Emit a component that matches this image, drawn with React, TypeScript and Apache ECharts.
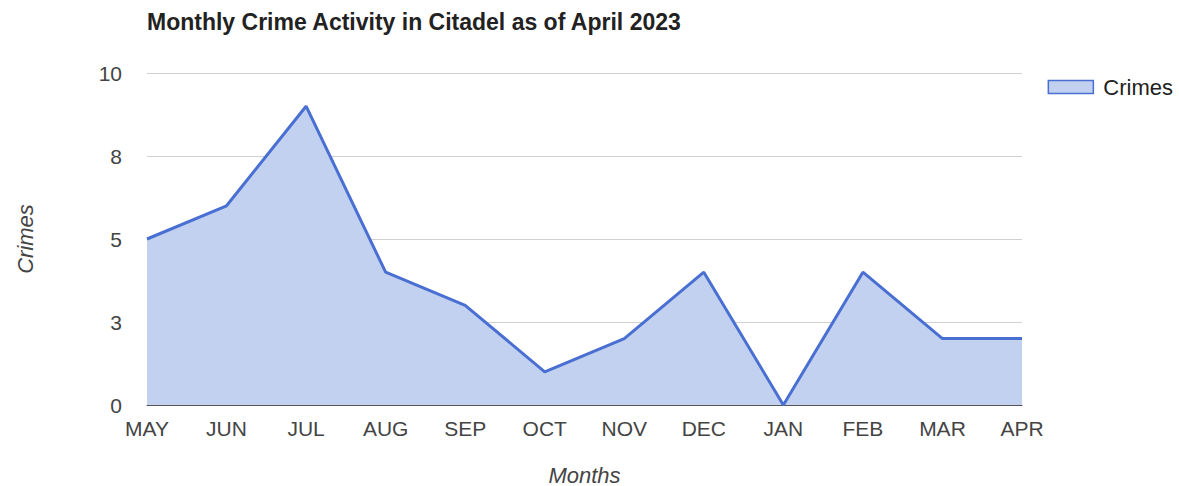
import React, { useEffect, useRef } from "react";
import * as echarts from "echarts";

const months = ["MAY", "JUN", "JUL", "AUG", "SEP", "OCT", "NOV", "DEC", "JAN", "FEB", "MAR", "APR"];
const crimes = [5, 6, 9, 4, 3, 1, 2, 4, 0, 4, 2, 2];
const titleText = "Monthly Crime Activity in Citadel as of April 2023";
const seriesName = "Crimes";
const xName = "Months";
const yName = "Crimes";

const FONT = "'Liberation Sans', Arial, sans-serif";

export default function App() {
  const ref = useRef<HTMLDivElement>(null);
  useEffect(() => {
    if (!ref.current) return;
    const chart = echarts.init(ref.current, undefined, { renderer: "svg" });
    chart.setOption({
      animation: false,
      backgroundColor: "#ffffff",
      textStyle: { fontFamily: FONT },
      title: {
        text: titleText,
        left: 142,
        top: 5,
        textStyle: { fontFamily: FONT, fontSize: 23, fontWeight: "bold", color: "#222" },
      },
      legend: {
        right: 1,
        top: 71,
        icon: "rect",
        itemWidth: 45,
        itemHeight: 13,
        itemGap: 10,
        textStyle: { fontFamily: FONT, fontSize: 22, color: "#222", padding: [0, 0, 0, 5] },
        data: [
          {
            name: seriesName,
            itemStyle: { color: "#c2d1ef", borderColor: "#4a6fd3", borderWidth: 1.5 },
          },
        ],
      },
      grid: { left: 147, right: 157, top: 73, bottom: 81, outerBoundsMode: "none" },
      xAxis: {
        type: "category",
        data: months,
        boundaryGap: false,
        name: xName,
        nameLocation: "middle",
        nameGap: 59,
        nameTextStyle: { fontFamily: FONT, fontSize: 22, fontStyle: "italic", color: "#444" },
        axisLine: { show: true, lineStyle: { color: "#555", width: 1 } },
        axisTick: { show: false },
        axisLabel: { fontFamily: FONT, fontSize: 21, color: "#444", margin: 13 },
        splitLine: { show: false },
      },
      yAxis: {
        type: "value",
        min: 0,
        max: 10,
        interval: 2.5,
        name: yName,
        nameLocation: "middle",
        nameGap: 111,
        nameRotate: 90,
        nameTextStyle: { fontFamily: FONT, fontSize: 22, fontStyle: "italic", color: "#444" },
        axisLine: { show: false },
        axisTick: { show: false },
        axisLabel: {
          fontFamily: FONT,
          fontSize: 21,
          color: "#444",
          margin: 25,
          formatter: (v: number) => String(Math.round(v)),
        },
        splitLine: { show: true, lineStyle: { color: "#d0d0d0", width: 1 } },
      },
      series: [
        {
          name: seriesName,
          type: "line",
          data: crimes,
          symbol: "none",
          lineStyle: { color: "#4a6fd3", width: 3 },
          itemStyle: { color: "#4a6fd3" },
          areaStyle: { color: "#c2d1ef", opacity: 1 },
        },
      ],
    });
    return () => chart.dispose();
  }, []);
  return (
    <div
      ref={ref}
      style={{ position: "fixed", left: 0, top: 0, width: 1179, height: 486 }}
    />
  );
}
